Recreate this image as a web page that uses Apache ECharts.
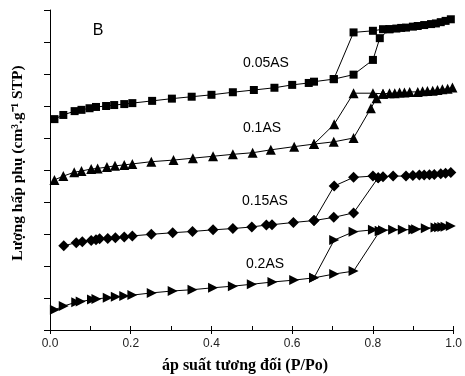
<!DOCTYPE html>
<html><head><meta charset="utf-8">
<script src="https://cdn.jsdelivr.net/npm/echarts@6/dist/echarts.min.js"></script>
<style>html,body{margin:0;padding:0;background:#fff}#c{width:465px;height:376px}</style>
</head><body><div id="c"></div>
<script>
// x: relative pressure P/Po ; y: amount adsorbed (arbitrary offset units, one y tick = 1)
const xTicks = ['0.0','0.2','0.4','0.6','0.8','1.0'];
const sampleNames = ['0.05AS','0.1AS','0.15AS','0.2AS'];

const ads005 = [[0.011,6.59],[0.033,6.72],[0.061,6.84],[0.078,6.88],[0.098,6.93],[0.114,6.97],[0.139,7.00],[0.159,7.03],[0.184,7.06],[0.204,7.09],[0.253,7.16],[0.302,7.23],[0.351,7.29],[0.400,7.35],[0.453,7.43],[0.505,7.50],[0.556,7.57],[0.600,7.66],[0.641,7.72],[0.654,7.76],[0.703,7.84],[0.752,7.98],[0.800,8.44],[0.817,9.12],[0.841,9.40],[0.858,9.42],[0.870,9.44],[0.882,9.45],[0.899,9.48],[0.911,9.50],[0.927,9.53],[0.944,9.56],[0.956,9.58],[0.968,9.62],[0.980,9.66],[0.993,9.71]];
const des005 = [[0.841,9.40],[0.825,9.40],[0.800,9.35],[0.752,9.30],[0.703,7.84]];

const ads01 = [[0.011,4.69],[0.033,4.81],[0.060,4.93],[0.078,4.97],[0.102,5.03],[0.118,5.05],[0.141,5.09],[0.161,5.13],[0.184,5.16],[0.204,5.19],[0.251,5.26],[0.306,5.31],[0.354,5.37],[0.404,5.43],[0.453,5.49],[0.502,5.54],[0.547,5.63],[0.605,5.73],[0.654,5.81],[0.703,5.88],[0.752,6.00],[0.795,6.93],[0.809,7.24],[0.825,7.38],[0.841,7.40],[0.854,7.40],[0.866,7.42],[0.878,7.42],[0.891,7.44],[0.911,7.44],[0.923,7.46],[0.935,7.47],[0.948,7.48],[0.960,7.50],[0.972,7.52],[0.985,7.54],[0.997,7.58]];
const des01 = [[0.825,7.38],[0.800,7.40],[0.752,7.40],[0.704,6.43],[0.654,5.81]];

const ads015 = [[0.034,2.63],[0.065,2.73],[0.080,2.76],[0.102,2.80],[0.114,2.82],[0.123,2.85],[0.143,2.86],[0.162,2.88],[0.184,2.91],[0.204,2.94],[0.251,2.99],[0.304,3.04],[0.353,3.08],[0.404,3.13],[0.453,3.17],[0.500,3.22],[0.536,3.28],[0.550,3.29],[0.603,3.36],[0.654,3.42],[0.703,3.52],[0.752,3.66],[0.813,4.76],[0.825,4.79],[0.850,4.81],[0.882,4.81],[0.899,4.83],[0.915,4.84],[0.927,4.84],[0.940,4.85],[0.952,4.86],[0.968,4.88],[0.980,4.90],[0.993,4.92]];
const des015 = [[0.813,4.76],[0.800,4.81],[0.752,4.77],[0.704,4.50],[0.654,3.42]];

const ads02 = [[0.012,0.63],[0.034,0.75],[0.065,0.87],[0.076,0.89],[0.104,0.95],[0.115,0.97],[0.143,1.01],[0.163,1.04],[0.184,1.06],[0.204,1.09],[0.252,1.16],[0.304,1.22],[0.353,1.26],[0.404,1.32],[0.453,1.37],[0.500,1.43],[0.551,1.50],[0.605,1.56],[0.654,1.63],[0.704,1.75],[0.752,1.84],[0.817,3.09],[0.825,3.12],[0.850,3.13],[0.874,3.13],[0.900,3.14],[0.907,3.15],[0.931,3.18],[0.955,3.20],[0.964,3.21],[0.972,3.22],[0.980,3.23],[0.993,3.25]];
const des02 = [[0.817,3.09],[0.800,3.13],[0.752,3.07],[0.704,2.81],[0.654,1.63]];

const chart = echarts.init(document.getElementById('c'), null, {renderer:'canvas'});
const black = '#000';
function ser(data, symbol, size, rot){
  return {type:'line', data:data, symbol:symbol, symbolSize:size, symbolRotate:rot||0,
    showSymbol:true, animation:false, silent:true,
    itemStyle:{color:black, borderWidth:0},
    lineStyle:{color:black, width:1}};
}
const serif = '"Liberation Serif","Times New Roman",serif';
const sans = '"Liberation Sans",Arial,sans-serif';
chart.setOption({
  animation:false,
  grid:{left:50, right:7, top:10, bottom:46, containLabel:false},
  xAxis:[{
    type:'value', min:0, max:1, interval:0.2,
    axisLine:{show:true, lineStyle:{color:black, width:1}},
    axisTick:{show:true, inside:false, length:4, lineStyle:{color:black}},
    axisLabel:{show:true, margin:8, color:'#222', fontFamily:sans, fontSize:12,
      formatter:function(v){ const i=Math.round(v/0.2); return xTicks[i]; }},
    splitLine:{show:false}
  },{
    type:'value', min:0, max:1, interval:0.1, position:'bottom',
    axisLine:{show:false},
    axisTick:{show:true, inside:true, length:4, lineStyle:{color:black}},
    axisLabel:{show:false}, splitLine:{show:false}
  }],
  yAxis:{
    type:'value', min:0, max:10, interval:1,
    axisLine:{show:true, lineStyle:{color:black, width:1}},
    axisTick:{show:true, inside:false, length:6, lineStyle:{color:black}},
    axisLabel:{show:false}, splitLine:{show:false}
  },
  series:[
    ser(ads005,'rect',8), ser(des005,'rect',8),
    ser(ads01,'triangle',10), ser(des01,'triangle',10),
    ser(ads015,'diamond',11), ser(des015,'diamond',11),
    ser(ads02,'triangle',10,-90), ser(des02,'triangle',10,-90)
  ],
  graphic:[
    {type:'text', x:98, y:31, style:{text:'B', fontSize:16, fill:black, align:'center', verticalAlign:'middle', fontFamily:sans}},
    {type:'text', x:266, y:63, style:{text:sampleNames[0], fontSize:14, fill:black, align:'center', verticalAlign:'middle', fontFamily:sans}},
    {type:'text', x:262, y:128, style:{text:sampleNames[1], fontSize:14, fill:black, align:'center', verticalAlign:'middle', fontFamily:sans}},
    {type:'text', x:265, y:201, style:{text:sampleNames[2], fontSize:14, fill:black, align:'center', verticalAlign:'middle', fontFamily:sans}},
    {type:'text', x:265, y:264, style:{text:sampleNames[3], fontSize:14, fill:black, align:'center', verticalAlign:'middle', fontFamily:sans}},
    {type:'text', x:245, y:366, style:{text:'áp suất tương đối (P/Po)', fontSize:16, fontWeight:'bold', fill:black, align:'center', verticalAlign:'middle', fontFamily:serif}},
    {type:'text', x:18, y:163, rotation:Math.PI/2, style:{text:'Lượng hấp phụ (cm³.g⁻¹ STP)', fontSize:15.5, fontWeight:'bold', fill:black, align:'center', verticalAlign:'middle', fontFamily:serif}}
  ]
});
</script></body></html>
